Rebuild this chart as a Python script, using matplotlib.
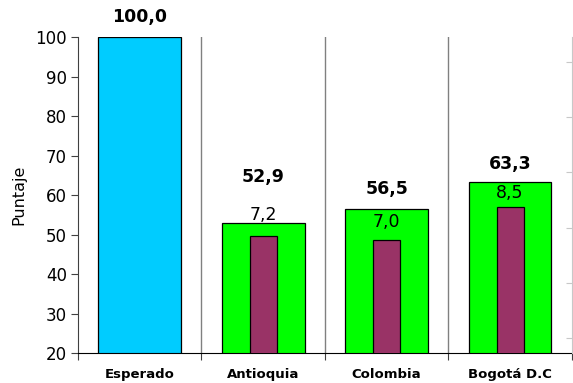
import matplotlib
matplotlib.use('Agg')
import matplotlib.pyplot as plt
import numpy as np

categories = ['Esperado', 'Antioquia', 'Colombia', 'Bogotá D.C']
puntaje = [100.0, 52.9, 56.5, 63.3]
inner = [None, 49.6, 48.6, 56.9]       # maroon bars
desv = [None, '7,2', '7,0', '8,5']     # small labels
puntaje_txt = ['100,0', '52,9', '56,5', '63,3']

# label offsets in points (layout only)
off_big = [14.4, 33.5, 14.6, 13.2]
off_small = [None, 15.1, 13.2, 10.1]

fig = plt.figure(figsize=(5.73, 3.83), dpi=100)
ax = fig.add_axes([0.136, 0.078, 0.862, 0.825])

x = np.arange(len(categories)) + 0.5
colors = ['#00CCFF', '#00FF00', '#00FF00', '#00FF00']
ax.bar(x, puntaje, width=0.67, color=colors, edgecolor='black', linewidth=0.9, zorder=2)
xi = [x[i] for i in range(len(inner)) if inner[i] is not None]
vi = [v for v in inner if v is not None]
ax.bar(xi, vi, width=0.22, color='#993366', edgecolor='black', linewidth=0.9, zorder=3)

for i in range(len(categories)):
    ax.annotate(puntaje_txt[i], (x[i], puntaje[i]), xytext=(0, off_big[i]),
                textcoords='offset points', ha='center', va='center',
                fontsize=12.5, fontweight='bold', annotation_clip=False)
    if inner[i] is not None:
        ax.annotate(desv[i], (x[i], inner[i]), xytext=(0, off_small[i]),
                    textcoords='offset points', ha='center', va='center',
                    fontsize=12.5, zorder=4)

# separators
for b in range(1, len(categories)):
    ax.axvline(b, color='#808080', lw=1, zorder=1)

ax.set_xlim(0, len(categories))
ax.set_ylim(20, 100)
ax.set_yticks(np.arange(20, 101, 10))
ax.set_xticks(np.arange(0, len(categories) + 1))
ax.set_xticklabels([])
ax.set_xticks(x, minor=True)
ax.set_xticklabels(categories, minor=True, fontsize=9.5, fontweight='bold')
ax.tick_params(axis='x', which='minor', length=0, pad=11)
ax.tick_params(axis='x', which='major', length=5, direction='out', color='#404040')
ax.tick_params(axis='y', length=5, labelsize=12, pad=3, color='#404040')
ax.spines['top'].set_visible(False)
ax.spines['right'].set_visible(False)
ax.spines['left'].set_color('#404040')
ax.spines['bottom'].set_color('black')
ax.set_ylabel('Puntaje', fontsize=11.5, labelpad=6)

# faint right axis
ax2 = ax.twinx()
ax2.set_ylim(0, 1)
ax2.set_yticks([0.047, 0.222, 0.397, 0.572, 0.747, 0.922])
ax2.set_yticklabels([])
ax2.tick_params(axis='y', direction='in', length=4, color='#c8c8c8')
for s in ['top', 'left', 'bottom']:
    ax2.spines[s].set_visible(False)
ax2.spines['right'].set_color('#c8c8c8')

plt.savefig('out.png', dpi=100)
plt.close()
